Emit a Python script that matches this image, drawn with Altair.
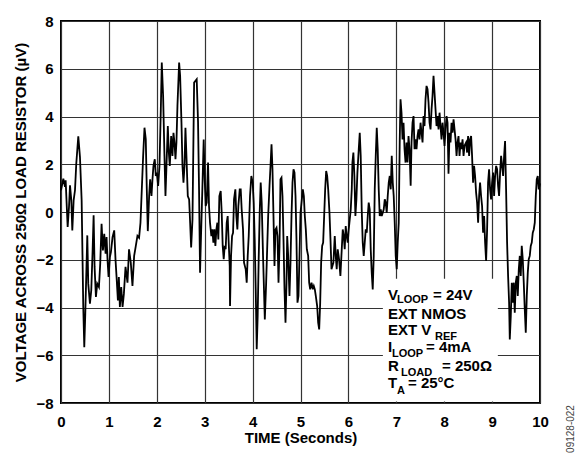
import altair as alt
import pandas as pd

# ---- data ----
time_s = [
    0.000, 0.049, 0.083, 0.097, 0.139, 0.167, 0.188, 0.215, 0.236, 0.264,
    0.292, 0.319, 0.361, 0.396, 0.431, 0.465, 0.486, 0.507, 0.549, 0.569,
    0.604, 0.632, 0.660, 0.681, 0.701, 0.729, 0.757, 0.792, 0.819, 0.847,
    0.875, 0.903, 0.931, 0.951, 0.972, 0.993, 1.021, 1.042, 1.076, 1.111,
    1.139, 1.160, 1.188, 1.208, 1.229, 1.257, 1.285, 1.313, 1.347,
    1.388, 1.420, 1.457, 1.492, 1.527, 1.562, 1.596, 1.630, 1.659, 1.687,
    1.715, 1.743, 1.770, 1.791, 1.812, 1.840, 1.861, 1.889, 1.910, 1.930,
    1.958, 1.979, 2.000, 2.028, 2.056, 2.084, 2.104, 2.132, 2.160, 2.181,
    2.202, 2.230, 2.251, 2.271, 2.300, 2.327, 2.348, 2.369, 2.390, 2.410,
    2.431, 2.466, 2.487, 2.515, 2.536, 2.557, 2.578, 2.598, 2.626, 2.647,
    2.675, 2.696, 2.717, 2.745, 2.779,
    2.833, 2.861, 2.882, 2.903, 2.923, 2.951, 2.979, 3.000, 3.021, 3.042,
    3.070, 3.090, 3.111, 3.139, 3.160, 3.181, 3.202, 3.223, 3.244, 3.264,
    3.285, 3.306, 3.334, 3.355, 3.376, 3.397, 3.418, 3.438, 3.459, 3.480,
    3.501, 3.522, 3.529, 3.550, 3.571, 3.592, 3.612, 3.640, 3.661, 3.682,
    3.703, 3.731, 3.752, 3.772, 3.800, 3.821, 3.856, 3.877, 3.898, 3.919,
    3.946, 3.974, 4.002, 4.023, 4.044, 4.065, 4.086, 4.106, 4.127, 4.148,
    4.169, 4.190, 4.218,
    4.255, 4.283, 4.304, 4.325, 4.353, 4.374, 4.395, 4.415, 4.436, 4.457,
    4.478, 4.499, 4.520, 4.541, 4.562, 4.582, 4.603, 4.624, 4.645, 4.666,
    4.687, 4.708, 4.722, 4.743, 4.770, 4.791, 4.812, 4.833, 4.854, 4.875,
    4.896, 4.916, 4.937, 4.958, 4.979, 5.000, 5.028, 5.049, 5.070, 5.090,
    5.111, 5.132, 5.160, 5.181, 5.202, 5.230, 5.257, 5.278, 5.299, 5.320,
    5.348, 5.369, 5.390, 5.411, 5.431, 5.452, 5.473, 5.494, 5.515, 5.536,
    5.557, 5.578, 5.605, 5.626, 5.647,
    5.687, 5.715, 5.736, 5.756, 5.777, 5.805, 5.833, 5.854, 5.882, 5.903,
    5.923, 5.944, 5.965, 5.986, 6.007, 6.028, 6.049, 6.070, 6.084, 6.104,
    6.125, 6.146, 6.167, 6.188, 6.216, 6.237, 6.257, 6.278, 6.299, 6.320,
    6.341, 6.362, 6.383, 6.404, 6.424, 6.445, 6.466, 6.487, 6.508, 6.529,
    6.550, 6.571, 6.592, 6.612, 6.633, 6.654, 6.675, 6.696, 6.717, 6.738,
    6.759, 6.779, 6.800, 6.821, 6.842, 6.863, 6.884, 6.905, 6.926, 6.946,
    6.967, 6.988, 7.009, 7.030, 7.051, 7.072,
    7.088, 7.109, 7.130, 7.151, 7.172, 7.193, 7.214, 7.234, 7.255, 7.276,
    7.300, 7.318, 7.339, 7.360, 7.381, 7.402, 7.422, 7.443, 7.464, 7.485,
    7.506, 7.527, 7.548, 7.569, 7.589, 7.610, 7.631, 7.652, 7.673, 7.694,
    7.715, 7.736, 7.756, 7.777, 7.798, 7.819, 7.840, 7.861, 7.882, 7.903,
    7.923, 7.944, 7.965, 7.986, 8.007, 8.028, 8.049, 8.070, 8.090, 8.111,
    8.132, 8.153, 8.174, 8.195, 8.216, 8.237, 8.258, 8.278, 8.299, 8.320,
    8.341, 8.362, 8.383, 8.404, 8.424,
    8.457, 8.478, 8.499, 8.520, 8.541, 8.562, 8.582, 8.603, 8.624, 8.645,
    8.666, 8.687, 8.708, 8.729, 8.749, 8.770, 8.791, 8.812, 8.833, 8.854,
    8.875, 8.896, 8.916, 8.937, 8.958, 8.979, 9.000, 9.021, 9.042, 9.063,
    9.084, 9.104, 9.125, 9.146, 9.167, 9.188, 9.209, 9.230, 9.251, 9.271,
    9.292, 9.313, 9.334, 9.355, 9.369, 9.390, 9.411, 9.431, 9.452, 9.473,
    9.494, 9.515, 9.536, 9.557, 9.578, 9.598, 9.619, 9.640, 9.661, 9.682,
    9.703, 9.724, 9.745, 9.765, 9.786, 9.807, 9.828, 9.849, 9.870, 9.891,
    9.912, 9.932, 9.953, 9.974, 10.000,
]

voltage_uv = [
    0.91, 1.40, 1.05, 1.33, -0.63, 0.21, 1.12, 0.49, -0.77, 0.49,
    0.91, 2.03, 3.17, 2.30, 0.49, -3.98, -5.66, -4.26, -0.98, -3.00,
    -3.84, -3.28, -1.61, -0.14, -2.30, -3.56, -3.00, -3.14, -2.16, -0.49,
    -1.61, -0.91, -1.75, -1.05, -2.03, -2.72, -1.89, -1.68, -1.05, -0.77,
    -2.03, -2.72, -3.70, -2.72, -3.98, -3.14, -3.98, -3.42, -2.30,
    -2.96, -1.56, -2.12, -3.10, -1.84, -1.42, -1.00, -1.08, -0.45, 0.95,
    2.35, 3.53, 3.04, 0.95, -0.80, 0.67, 1.37, 0.67, 1.37, 1.93,
    2.21, 1.51, 1.65, 1.09, 1.93, 4.30, 6.26, 4.86, 2.35, 0.67,
    1.93, 3.60, 2.49, 1.93, 3.18, 2.35, 3.32, 2.91, 2.21, 2.91,
    4.44, 6.26, 5.70, 3.74, 1.93, 1.23, 1.93, 3.53, 1.93, 0.67,
    0.53, -0.45, -1.49, -0.31, 5.42,
    5.56, 3.77, 0.95, -2.54, -1.01, 0.95, 3.04, 1.37, 0.25, 0.39,
    2.07, 0.25, -0.45, -1.01, -0.73, -1.28, -0.73, -1.42, -0.73, -0.45,
    -1.15, 0.67, 0.88, -0.03, -1.42, -1.98, -1.42, -1.56, -0.45, -0.17,
    -1.28, -2.26, -3.94, -1.84, -1.01, -0.87, 0.53, 0.95, -0.17, -0.73,
    0.25, 0.95, 0.95, 0.11, -0.73, -2.12, -2.40, -2.96, -1.84, -1.01,
    0.67, 1.51, 1.23, 0.39, -1.15, -3.24, -5.75, -4.36, -1.98, -0.03,
    1.23, 0.39, -1.84,
    -4.50, -2.96, -1.56, -0.17, 1.09, 1.93, 2.84, 1.79, -0.17, -2.26,
    -0.73, -0.66, -1.01, -2.96, -1.42, 1.37, 1.44, 0.67, -1.15, -3.24,
    -4.64, -2.96, -1.01, -1.84, -3.52, -2.12, -0.17, 1.23, 1.79, 1.65,
    0.67, -1.15, -3.80, -3.52, -1.84, -0.03, 0.53, 0.95, 0.67, -0.17,
    -0.73, -1.56, -1.84, -2.96, -3.24, -2.96, -3.24, -3.10, -3.24, -3.52,
    -3.94, -4.64, -4.92, -3.80, -2.12, -1.42, -1.28, -0.17, 0.95, 1.72,
    1.51, 0.95, -0.03, -1.15, -2.40,
    -2.12, -1.01, -1.84, -2.40, -1.56, -1.98, -2.68, -1.84, -0.73, -1.01,
    -1.56, -0.59, -1.01, -1.28, -0.73, -0.31, 0.11, 0.95, 2.07, 2.49,
    1.51, -0.17, 0.53, 1.65, 2.63, 3.32, 2.35, 0.11, -1.28, -1.84,
    -1.28, -0.73, -0.87, -0.17, 0.39, 0.11, -1.56, -2.54, -3.24, -1.84,
    0.95, 2.35, 3.53, 2.63, 0.95, -0.17, 0.11, -0.17, -0.03, 0.11,
    0.53, 0.39, -0.03, 0.67, 1.23, 1.51, 0.95, 2.35, 1.23, 0.67,
    -0.45, -1.84, -2.40, -1.28, -0.45, 3.04,
    4.72, 4.16, 3.04, 3.74, 2.63, 2.07, 2.91, 2.07, 3.18, 2.63,
    1.10, 2.91, 3.74, 4.02, 2.63, 3.04, 2.63, 3.18, 3.46, 3.04,
    3.74, 3.32, 2.91, 4.02, 3.60, 4.72, 5.28, 5.14, 4.58, 3.74,
    3.46, 4.30, 4.86, 5.70, 5.00, 4.30, 3.60, 4.02, 3.46, 4.16,
    3.60, 3.04, 3.74, 3.32, 2.77, 3.46, 4.02, 3.74, 1.60, 3.32,
    2.91, 3.74, 3.32, 3.88, 3.46, 3.04, 2.35, 2.91, 3.18, 2.35,
    2.91, 2.63, 3.04, 2.35, 2.77,
    2.91, 2.49, 3.18, 2.35, 3.04, 3.18, 2.35, 1.23, 1.93, 1.51,
    0.81, 0.39, -0.45, 0.67, 1.23, 0.67, 0.25, -0.87, -0.17, -1.28,
    -2.05, -0.73, 1.23, 1.79, 0.95, 0.53, 1.23, 1.65, 0.67, 1.51,
    1.93, 1.79, 1.09, 0.67, 1.65, 2.35, 1.93, 1.51, 2.35, 2.97,
    0.95, -1.28, -2.68, -3.80, -5.34, -4.36, -2.96, -3.80, -2.96, -4.22,
    -2.96, -2.68, -3.52, -2.40, -1.84, -2.68, -1.42, -1.98, -2.96, -4.08,
    -5.06, -3.52, -2.54, -1.98, -1.84, -1.42, -1.28, -0.87, -0.73, -0.45,
    0.67, 1.37, 1.51, 0.95, 1.20,
]

x_ticks = [0, 1, 2, 3, 4, 5, 6, 7, 8, 9, 10]
y_ticks = [-8, -6, -4, -2, 0, 2, 4, 6, 8]

# annotation box (data units) and its text pieces
box_x = [6.72]
box_x2 = [9.12]
box_y = [-2.80]
box_y2 = [-7.94]

main_text = ["V", "= 24V", "EXT NMOS", "EXT V", "I", "= 4mA", "R", "= 250Ω", "T", "= 25°C"]
main_x = [6.827, 7.766, 6.827, 6.827, 6.827, 7.620, 6.827, 7.954, 6.827, 7.244]
main_y = [-3.686, -3.686, -4.47, -5.15, -5.86, -5.86, -6.66, -6.66, -7.37, -7.37]

sub_text = ["LOOP", "REF", "LOOP", "LOAD", "A"]
sub_x = [7.015, 7.808, 6.910, 7.098, 7.015]
sub_y = [-3.83, -5.36, -6.07, -6.87, -7.62]

FONT = "Liberation Sans"

trace = pd.DataFrame({"t": time_s, "v": voltage_uv})
box = pd.DataFrame({"t": box_x, "t2": box_x2, "v": box_y, "v2": box_y2})
mains = pd.DataFrame({"t": main_x, "v": main_y, "label": main_text})
subs = pd.DataFrame({"t": sub_x, "v": sub_y, "label": sub_text})

xscale = alt.Scale(domain=[0, 10], nice=False, zero=False)
yscale = alt.Scale(domain=[-8, 8], nice=False, zero=False)

line = alt.Chart(trace).mark_line(color="black", strokeWidth=1.8, interpolate="linear").encode(
    x=alt.X("t:Q", scale=xscale,
            axis=alt.Axis(values=x_ticks, title="TIME (Seconds)", format="d",
                          titleY=39, titleBaseline="alphabetic", labelPadding=11)),
    y=alt.Y("v:Q", scale=yscale,
            axis=alt.Axis(values=y_ticks, title="VOLTAGE ACROSS 250Ω LOAD RESISTOR (µV)", format="d",
                          titleX=-36, titleY=191, titleBaseline="alphabetic", labelPadding=8)),
)

rect = alt.Chart(box).mark_rect(color="white", stroke=None).encode(
    x=alt.X("t:Q", scale=xscale), x2="t2:Q",
    y=alt.Y("v:Q", scale=yscale), y2="v2:Q",
)

main_marks = alt.Chart(mains).mark_text(
    font=FONT, fontSize=15, fontWeight="bold", align="left", baseline="alphabetic", color="black"
).encode(x=alt.X("t:Q", scale=xscale), y=alt.Y("v:Q", scale=yscale), text="label:N")

sub_marks = alt.Chart(subs).mark_text(
    font=FONT, fontSize=11, fontWeight="bold", align="left", baseline="alphabetic", color="black"
).encode(x=alt.X("t:Q", scale=xscale), y=alt.Y("v:Q", scale=yscale), text="label:N")

code = alt.Chart(pd.DataFrame({"label": ["09128-022"]})).mark_text(
    font=FONT, fontSize=10, angle=270, align="center", baseline="middle", color="#444444"
).encode(x=alt.value(510), y=alt.value(408), text="label:N")

chart = alt.layer(rect, line, main_marks, sub_marks, code).properties(
    width=479, height=382,
    autosize=alt.AutoSizeParams(type="none"),
    padding={"left": 61, "top": 21, "right": 37, "bottom": 50},
    background="white",
).configure_view(
    stroke="black", strokeWidth=2
).configure_axis(
    grid=True, gridColor="#333333", gridWidth=1.2, gridOpacity=1,
    domain=False, ticks=False, tickSize=0,
    labelFont=FONT, labelFontSize=15, labelFontWeight="bold", labelColor="black",
    titleFont=FONT, titleFontSize=15, titleFontWeight="bold", titleColor="black",
    labelFlush=False, labelOverlap=False,
)

chart.save("out.html", embed_options={"renderer": "svg", "actions": False})
